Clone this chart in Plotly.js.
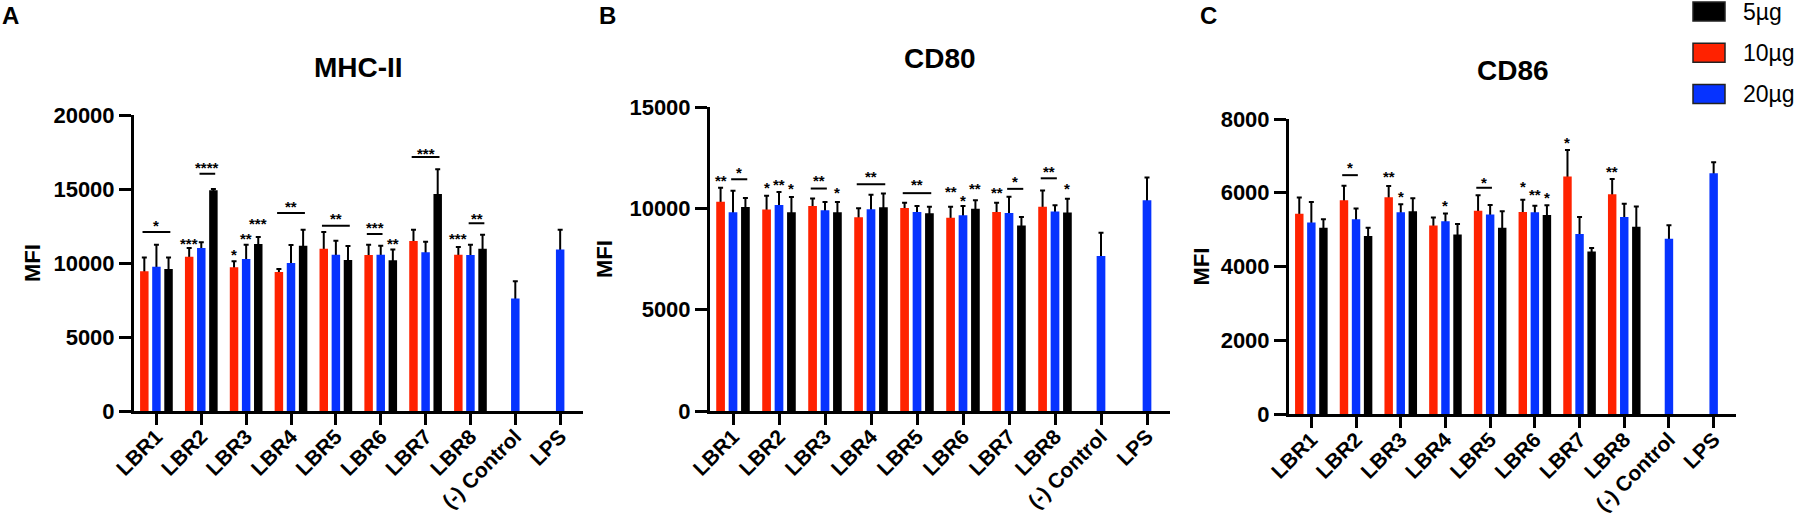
<!DOCTYPE html>
<html>
<head>
<meta charset="utf-8">
<script src="https://cdn.plot.ly/plotly-3.0.1.min.js"></script>
<style>
  html, body { margin: 0; padding: 0; background: #fff; }
  #chart { width: 1795px; height: 523px; }
</style>
</head>
<body>
<div id="chart"></div>
<script>
// categories and doses (bar order inside each group: 10, 20, 5 µg)
const groups = ['LBR1', 'LBR2', 'LBR3', 'LBR4', 'LBR5', 'LBR6', 'LBR7', 'LBR8', '(-) Control', 'LPS'];
const doseNames = ['10µg', '20µg', '5µg'];
const doseColors = ['#ff2200', '#0633ff', '#000000'];
const legendOrder = [2, 0, 1];

// A: MHC-II
const mhc10 = [9440, 10430, 9710, 9390, 10970, 10540, 11490, 10560, null, null];
const mhc10sd = [940, 580, 400, 210, 1120, 700, 760, 520, null, null];
const mhc20 = [9750, 11010, 10270, 10000, 10560, 10560, 10720, 10540, 7600, 10920];
const mhc20sd = [1490, 390, 970, 1220, 950, 610, 720, 700, 1170, 1330];
const mhc5 = [9600, 14910, 11280, 11170, 10200, 10180, 14660, 10970, null, null];
const mhc5sd = [780, 90, 480, 1080, 950, 740, 1670, 940, null, null];

// B: CD80
const cd80_10 = [10330, 9940, 10110, 9560, 10020, 9540, 9820, 10080, null, null];
const cd80_10sd = [680, 680, 380, 440, 250, 540, 460, 800, null, null];
const cd80_20 = [9810, 10160, 9900, 9950, 9820, 9660, 9770, 9840, 7650, 10400];
const cd80_20sd = [1060, 650, 410, 720, 290, 460, 800, 310, 1150, 1120];
const cd80_5 = [10070, 9810, 9810, 10050, 9760, 9980, 9150, 9790, null, null];
const cd80_5sd = [440, 750, 500, 680, 320, 420, 420, 680, null, null];

// C: CD86
const cd86_10 = [5430, 5800, 5880, 5110, 5510, 5480, 6440, 5960, null, null];
const cd86_10sd = [440, 390, 300, 220, 420, 330, 720, 410, null, null];
const cd86_20 = [5190, 5280, 5470, 5230, 5410, 5470, 4880, 5340, 4750, 6530];
const cd86_20sd = [560, 290, 220, 210, 260, 180, 460, 360, 370, 300];
const cd86_5 = [5050, 4830, 5500, 4870, 5050, 5400, 4410, 5080, null, null];
const cd86_5sd = [230, 220, 350, 280, 450, 260, 90, 550, null, null];

// significance marks: [group, fromBar, toBar, starValue, lineValue, text]
// bars: -1 = 10µg, 0 = 20µg, 1 = 5µg
const mhcMarks = [
    [0, -1, 1, 12815, 12094, '*'],
    [1, -1, -1, 11621, null, '***'],
    [1, 0, 1, 16756, 16035, '****'],
    [2, -1, -1, 10856, null, '*'],
    [2, 0, 0, 11959, null, '**'],
    [2, 1, 1, 12928, null, '***'],
    [3, -1, 1, 14121, 13378, '**'],
    [4, -1, 1, 13265, 12522, '**'],
    [5, -1, 0, 12680, 11959, '***'],
    [5, 1, 1, 11576, null, '**'],
    [6, -1, 1, 17702, 17161, '***'],
    [7, -1, -1, 11914, null, '***'],
    [7, 0, 1, 13310, 12680, '**'],
];
const cd80Marks = [
    [0, -1, -1, 11548, null, '**'],
    [0, 0, 1, 11987, 11434, '*'],
    [1, -1, -1, 11222, null, '*'],
    [1, 0, 0, 11385, null, '**'],
    [1, 1, 1, 11173, null, '*'],
    [2, -1, 0, 11580, 10977, '**'],
    [2, 1, 1, 10994, null, '*'],
    [3, -1, 1, 11792, 11189, '**'],
    [4, -1, 1, 11352, 10749, '**'],
    [5, -1, -1, 11010, null, '**'],
    [5, 0, 0, 10570, null, '*'],
    [5, 1, 1, 11189, null, '**'],
    [6, -1, -1, 10961, null, '**'],
    [6, 0, 1, 11531, 10961, '*'],
    [7, -1, 0, 12036, 11482, '**'],
    [7, 1, 1, 11173, null, '*'],
];
const cd86Marks = [
    [1, -1, 0, 6784, 6477, '*'],
    [2, -1, -1, 6541, null, '**'],
    [2, 0, 0, 6000, null, '*'],
    [3, 0, 0, 5775, null, '*'],
    [4, -1, 0, 6396, 6135, '*'],
    [5, -1, -1, 6270, null, '*'],
    [5, 0, 0, 6054, null, '**'],
    [5, 1, 1, 5991, null, '*'],
    [6, -1, -1, 7459, null, '*'],
    [7, -1, -1, 6694, null, '**'],
];

const panels = [
    { title: 'MHC-II', letter: 'A', means: [mhc10, mhc20, mhc5], sds: [mhc10sd, mhc20sd, mhc5sd],
      marks: mhcMarks, yMax: 20000, dtick: 5000 },
    { title: 'CD80', letter: 'B', means: [cd80_10, cd80_20, cd80_5], sds: [cd80_10sd, cd80_20sd, cd80_5sd],
      marks: cd80Marks, yMax: 15000, dtick: 5000 },
    { title: 'CD86', letter: 'C', means: [cd86_10, cd86_20, cd86_5], sds: [cd86_10sd, cd86_20sd, cd86_5sd],
      marks: cd86Marks, yMax: 8000, dtick: 2000 },
];

// layout geometry (pixels of the 1795x523 page)
const W = 1795, H = 523;
const xPix = [[134, 582.6], [710, 1170], [1289, 1736]];
const yPix = [[411, 115], [411, 107], [414, 119]];
const letterX = [0, 597, 1198];
const mfiShift = [-102, -106, -88];

const FONT = '"Liberation Sans", Arial, Helvetica, sans-serif';
const bargap = 0.19;
const slotW = (1 - bargap) / 3;

const traces = [];
const annotations = [];
const shapes = [];
const layout = {
    width: W, height: H,
    margin: { l: 0, r: 0, t: 0, b: 0, pad: 0 },
    paper_bgcolor: '#fff', plot_bgcolor: '#fff',
    barmode: 'group', bargap: bargap, bargroupgap: 0.3,
    showlegend: false,
    font: { family: FONT, color: '#000' },
};

panels.forEach((p, i) => {
    const sfx = i === 0 ? '' : String(i + 1);
    const xa = 'x' + sfx, ya = 'y' + sfx;

    // error bars first (invisible bars), real bars drawn above them
    p.means.forEach((vals, d) => {
        traces.push({
            type: 'bar', x: groups, y: vals, xaxis: xa, yaxis: ya,
            offsetgroup: 'd' + d, hoverinfo: 'skip', showlegend: false,
            marker: { color: 'rgba(0,0,0,0)' },
            error_y: {
                type: 'data', symmetric: false, array: p.sds[d],
                arrayminus: vals.map(v => v == null ? null : p.yMax * 0.03),
                color: '#000', thickness: 2, width: 2.5,
            },
        });
    });
    p.means.forEach((vals, d) => {
        traces.push({
            type: 'bar', x: groups, y: vals, xaxis: xa, yaxis: ya,
            offsetgroup: 'd' + d, name: doseNames[d], showlegend: false,
            marker: { color: doseColors[d], line: { width: 0 } },
        });
    });

    layout['xaxis' + sfx] = {
        domain: [xPix[i][0] / W, xPix[i][1] / W], anchor: ya,
        type: 'category', categoryorder: 'array', categoryarray: groups,
        range: [-0.5, groups.length - 0.5],
        showline: true, linecolor: '#000', linewidth: 3,
        ticks: 'outside', ticklen: 11, tickwidth: 3, tickcolor: '#000',
        tickangle: -45, ticklabelstandoff: -9, showgrid: false, zeroline: false,
        tickfont: { family: FONT, size: 21, weight: 700, color: '#000' },
    };
    layout['yaxis' + sfx] = {
        domain: [1 - yPix[i][0] / H, 1 - yPix[i][1] / H], anchor: xa,
        range: [0, p.yMax], tickmode: 'linear', tick0: 0, dtick: p.dtick, tickformat: 'd',
        showline: true, linecolor: '#000', linewidth: 3,
        ticks: 'outside', ticklen: 12, tickwidth: 3, tickcolor: '#000',
        showgrid: false, zeroline: false,
        tickfont: { family: FONT, size: 22, weight: 700, color: '#000' },
    };

    // panel title, letter, y-axis title
    annotations.push({
        xref: xa + ' domain', yref: ya + ' domain', x: 0.5, y: 1, yshift: 48,
        text: p.title, showarrow: false, xanchor: 'center', yanchor: 'middle',
        font: { family: FONT, size: 28, weight: 700, color: '#000' },
    });
    annotations.push({
        xref: 'paper', yref: 'paper', x: letterX[i] / W, y: 1 - 16 / H,
        text: p.letter, showarrow: false, xanchor: 'left', yanchor: 'middle',
        font: { family: FONT, size: 24, weight: 700, color: '#000' },
    });
    annotations.push({
        xref: xa + ' domain', yref: ya + ' domain', x: 0, y: 0.5, xshift: mfiShift[i],
        text: 'MFI', showarrow: false, textangle: -90, xanchor: 'center', yanchor: 'middle',
        font: { family: FONT, size: 22, weight: 700, color: '#000' },
    });

    // significance stars and brackets
    p.marks.forEach(([g, a, b, starY, lineY, txt]) => {
        annotations.push({
            xref: xa, yref: ya, x: g + (a + b) / 2 * slotW, y: starY, yshift: -4,
            text: txt, showarrow: false, xanchor: 'center', yanchor: 'middle',
            font: { family: FONT, size: 15, weight: 700, color: '#000' },
        });
        if (lineY != null) {
            shapes.push({
                type: 'line', xref: xa, yref: ya,
                x0: g + a * slotW - 0.04, x1: g + b * slotW + 0.04, y0: lineY, y1: lineY,
                line: { color: '#000', width: 2 },
            });
        }
    });
});

// legend (top right), drawn as boxes and labels
legendOrder.forEach((d, k) => {
    const cy = 11.5 + k * 41.3;
    shapes.push({
        type: 'rect', xref: 'paper', yref: 'paper',
        x0: 1693 / W, x1: 1725 / W, y0: 1 - (cy - 9.5) / H, y1: 1 - (cy + 9.5) / H,
        fillcolor: doseColors[d], line: { color: '#222', width: 1.5 },
    });
    annotations.push({
        xref: 'paper', yref: 'paper', x: 1741 / W, y: 1 - cy / H,
        text: doseNames[d], showarrow: false, xanchor: 'left', yanchor: 'middle',
        font: { family: FONT, size: 23, color: '#000' },
    });
});

layout.annotations = annotations;
layout.shapes = shapes;

Plotly.newPlot('chart', traces, layout, { staticPlot: true, displayModeBar: false });
</script>
</body>
</html>
